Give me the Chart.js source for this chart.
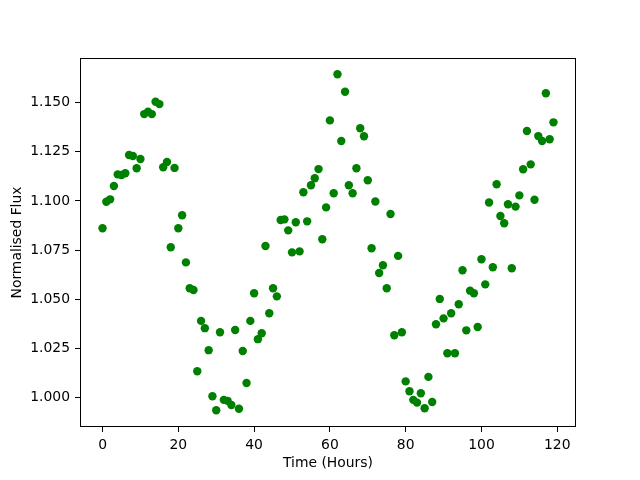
<!DOCTYPE html>
<html>
<head>
<meta charset="utf-8">
<script src="https://cdn.jsdelivr.net/npm/chart.js@4/dist/chart.umd.min.js"></script>
<style>
  body { margin: 0; background: #fff; }
</style>
</head>
<body>
<canvas id="fluxChart" width="640" height="480"></canvas>
<script>
// hours since start, one reading per hour
const hours = [
  0, 1, 2, 3, 4, 5, 6, 7, 8, 9,
  10, 11, 12, 13, 14, 15, 16, 17, 18, 19,
  20, 21, 22, 23, 24, 25, 26, 27, 28, 29,
  30, 31, 32, 33, 34, 35, 36, 37, 38, 39,
  40, 41, 42, 43, 44, 45, 46, 47, 48, 49,
  50, 51, 52, 53, 54, 55, 56, 57, 58, 59,
  60, 61, 62, 63, 64, 65, 66, 67, 68, 69,
  70, 71, 72, 73, 74, 75, 76, 77, 78, 79,
  80, 81, 82, 83, 84, 85, 86, 87, 88, 89,
  90, 91, 92, 93, 94, 95, 96, 97, 98, 99,
  100, 101, 102, 103, 104, 105, 106, 107, 108, 109,
  110, 111, 112, 113, 114, 115, 116, 117, 118, 119
];

// normalised flux
const flux = [
  1.0861, 1.0996, 1.1008, 1.1076, 1.1135, 1.1132, 1.1141, 1.1234, 1.1229, 1.1166,
  1.1213, 1.1442, 1.1454, 1.1442, 1.1505, 1.1493, 1.1171, 1.1198, 1.0764, 1.1168,
  1.0861, 1.0927, 1.0687, 1.0555, 1.0546, 1.0133, 1.0389, 1.0352, 1.0240, 1.0005,
  0.9934, 1.0331, 0.9987, 0.9982, 0.9961, 1.0343, 0.9942, 1.0236, 1.0073, 1.0389,
  1.0530, 1.0296, 1.0326, 1.0770, 1.0428, 1.0555, 1.0514, 1.0903, 1.0906, 1.0850,
  1.0738, 1.0891, 1.0743, 1.1044, 1.0896, 1.1080, 1.1115, 1.1162, 1.0805, 1.0967,
  1.1410, 1.1039, 1.1645, 1.1305, 1.1556, 1.1080, 1.1039, 1.1166, 1.1370, 1.1329,
  1.1105, 1.0759, 1.0997, 1.0633, 1.0672, 1.0555, 1.0933, 1.0316, 1.0720, 1.0331,
  1.0081, 1.0031, 0.9987, 0.9973, 1.0021, 0.9944, 1.0104, 0.9976, 1.0372, 1.0501,
  1.0402, 1.0224, 1.0428, 1.0224, 1.0474, 1.0647, 1.0341, 1.0543, 1.0530, 1.0358,
  1.0703, 1.0575, 1.0992, 1.0662, 1.1085, 1.0923, 1.0886, 1.0983, 1.0657, 1.0971,
  1.1028, 1.1161, 1.1356, 1.1186, 1.1006, 1.1330, 1.1305, 1.1548, 1.1314, 1.1400
];

const xTicks = [0, 20, 40, 60, 80, 100, 120];
const yTicks = [1.000, 1.025, 1.050, 1.075, 1.100, 1.125, 1.150];

Chart.defaults.font.family = 'DejaVu Sans';
Chart.defaults.font.size = 13.9;
Chart.defaults.color = '#000';

// matplotlib style box round the plot area
const frame = {
  id: 'frame',
  afterDraw(chart) {
    const { ctx, chartArea: a } = chart;
    ctx.save();
    ctx.strokeStyle = '#000';
    ctx.lineWidth = 1;
    ctx.strokeRect(a.left + 0.5, a.top + 0.5, a.right - a.left - 1, a.bottom - a.top - 1);
    ctx.restore();
  },
};

const points = hours.map((h, i) => ({ x: h, y: flux[i] }));

const ctx = document.getElementById('fluxChart');
const fluxChart = new Chart(ctx, {
  type: 'scatter',
  data: {
    datasets: [
      {
        data: points,
        backgroundColor: 'green',
        borderWidth: 0,
        pointRadius: 4.2,
        pointHoverRadius: 4.2,
      },
    ],
  },
  options: {
    responsive: false,
    animation: false,
    events: [],
    layout: { padding: { left: 0, top: 58, right: 64, bottom: 0 } },
    plugins: {
      legend: { display: false },
      tooltip: { enabled: false },
    },
    scales: {
      x: {
        type: 'linear',
        min: -5.95,
        max: 124.95,
        afterBuildTicks: axis => { axis.ticks = xTicks.map(v => ({ value: v })); },
        afterFit: axis => { axis.height = 53; },
        border: { display: false },
        grid: { drawOnChartArea: false, drawTicks: true, tickLength: 5, color: '#000' },
        ticks: { padding: 5, maxRotation: 0, callback: v => String(v) },
        title: { display: true, text: 'Time (Hours)', padding: { top: 0, bottom: 8 } },
      },
      y: {
        type: 'linear',
        min: 0.98488,
        max: 1.17276,
        afterBuildTicks: axis => { axis.ticks = yTicks.map(v => ({ value: v })); },
        afterFit: axis => { axis.width = 80; },
        border: { display: false },
        grid: { drawOnChartArea: false, drawTicks: true, tickLength: 5, color: '#000' },
        ticks: { padding: 5, callback: v => v.toFixed(3) },
        title: { display: true, text: 'Normalised Flux', padding: { top: 8.7, bottom: 0 } },
      },
    },
  },
  plugins: [frame],
});
</script>
</body>
</html>
